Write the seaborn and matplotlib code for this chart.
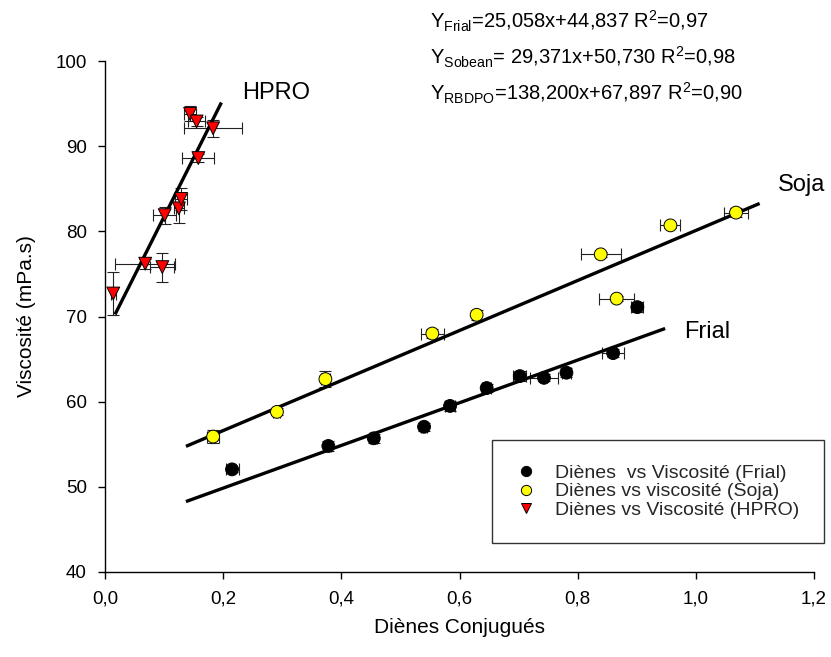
import numpy as np
import pandas as pd
import seaborn as sns
import matplotlib
matplotlib.use("Agg")
import matplotlib.pyplot as plt
from matplotlib.ticker import FixedLocator, FuncFormatter

# Données
frial_x = [0.215, 0.378, 0.455, 0.540, 0.584, 0.646, 0.702, 0.743, 0.781, 0.860, 0.901]
frial_y = [52.05, 54.8, 55.7, 57.05, 59.5, 61.6, 63.0, 62.8, 63.4, 65.7, 71.1]
frial_xerr = [0.011, 0.005, 0.006, 0.005, 0.009, 0.008, 0.011, 0.023, 0.008, 0.018, 0.010]
frial_yerr = [0.3, 0.6, 0.5, 0.5, 0.6, 0.5, 0.6, 0.4, 0.5, 0.5, 0.6]

soja_x = [0.183, 0.291, 0.373, 0.554, 0.629, 0.839, 0.866, 0.957, 1.068]
soja_y = [55.9, 58.8, 62.65, 68.0, 70.2, 77.3, 72.1, 80.7, 82.2]
soja_xerr = [0.010, 0.006, 0.008, 0.019, 0.006, 0.034, 0.030, 0.017, 0.021]
soja_yerr = [0.8, 0.4, 0.9, 0.5, 0.6, 0.3, 0.3, 0.3, 0.5]

hpro_x = [0.014, 0.068, 0.097, 0.101, 0.125, 0.129, 0.158, 0.144, 0.155, 0.183]
hpro_y = [72.7, 76.2, 75.8, 81.9, 82.7, 83.8, 88.6, 93.8, 92.9, 92.1]
hpro_xerr = [0.004, 0.051, 0.020, 0.019, 0.008, 0.010, 0.027, 0.010, 0.015, 0.049]
hpro_yerr = [2.5, 0.6, 1.7, 1.0, 1.7, 1.3, 0.5, 0.9, 0.5, 1.0]

# Droites de régression (pente, ordonnée, étendue en x)
fit_slope = {"Frial": 25.058, "Soja": 29.371, "HPRO": 138.200}
fit_intercept = {"Frial": 44.837, "Soja": 50.730, "HPRO": 67.897}
fit_range = {"Frial": (0.137, 0.948), "Soja": (0.137, 1.108), "HPRO": (0.017, 0.197)}

legend_labels = {
    "Frial": "Diènes  vs Viscosité (Frial)",
    "Soja": "Diènes vs viscosité (Soja)",
    "HPRO": "Diènes vs Viscosité (HPRO)",
}

equations = [
    r"Y$_{\mathregular{Frial}}$=25,058x+44,837 R$^{\mathregular{2}}$=0,97",
    r"Y$_{\mathregular{Sobean}}$= 29,371x+50,730 R$^{\mathregular{2}}$=0,98",
    r"Y$_{\mathregular{RBDPO}}$=138,200x+67,897 R$^{\mathregular{2}}$=0,90",
]

sns.set_theme(style="white")
plt.rcParams["font.family"] = ["Liberation Sans", "DejaVu Sans"]
plt.rcParams["mathtext.fontset"] = "custom"
plt.rcParams["mathtext.rm"] = "Liberation Sans"

df = pd.concat([
    pd.DataFrame({"x": frial_x, "y": frial_y, "serie": legend_labels["Frial"]}),
    pd.DataFrame({"x": soja_x, "y": soja_y, "serie": legend_labels["Soja"]}),
    pd.DataFrame({"x": hpro_x, "y": hpro_y, "serie": legend_labels["HPRO"]}),
])

fig = plt.figure(figsize=(8.31, 6.57), dpi=100)
ax = fig.add_axes([105 / 831, 1 - 572 / 657, 709 / 831, 511 / 657])

# barres d'erreur
for xs, ys, xe, ye in [(frial_x, frial_y, frial_xerr, frial_yerr),
                       (soja_x, soja_y, soja_xerr, soja_yerr),
                       (hpro_x, hpro_y, hpro_xerr, hpro_yerr)]:
    ax.errorbar(xs, ys, xerr=xe, yerr=ye, fmt="none", ecolor="#222222",
                elinewidth=0.8, capsize=4.5, capthick=0.8, zorder=2)

# droites
for name in ["Frial", "Soja", "HPRO"]:
    xx = np.array(fit_range[name])
    ax.plot(xx, fit_slope[name] * xx + fit_intercept[name], color="black", lw=2.4, zorder=3,
            solid_capstyle="butt")

palette = {legend_labels["Frial"]: "black", legend_labels["Soja"]: "#ffff00",
           legend_labels["HPRO"]: "#ff0000"}
markers = {legend_labels["Frial"]: "o", legend_labels["Soja"]: "o",
           legend_labels["HPRO"]: "v"}
sns.scatterplot(data=df, x="x", y="y", hue="serie", style="serie", palette=palette,
                markers=markers, s=85, edgecolor="black", linewidth=0.7, ax=ax, zorder=4)

ax.set_xlim(0, 1.2)
ax.set_ylim(40, 100)
ax.xaxis.set_major_locator(FixedLocator(np.arange(0, 1.21, 0.2)))
ax.xaxis.set_major_formatter(FuncFormatter(lambda v, p: f"{v:.1f}".replace(".", ",")))
ax.yaxis.set_major_locator(FixedLocator(np.arange(40, 101, 10)))
for s in ["top", "right"]:
    ax.spines[s].set_visible(False)
for s in ["left", "bottom"]:
    ax.spines[s].set_color("black")
    ax.spines[s].set_linewidth(1.0)
ax.tick_params(axis="both", direction="out", length=5, width=1, color="black",
               labelsize=13.5, labelcolor="black", pad=8, left=True, bottom=True)
ax.set_xlabel("Diènes Conjugués", fontsize=15, color="black", labelpad=8)
ax.set_ylabel("Viscosité (mPa.s)", fontsize=15, color="black", labelpad=14)

# étiquettes des droites
ax.text(0.232, 96.2, "HPRO", fontsize=17, color="black", va="center", ha="left")
ax.text(1.139, 85.4, "Soja", fontsize=17, color="black", va="center", ha="left")
ax.text(0.980, 68.2, "Frial", fontsize=17, color="black", va="center", ha="left")

# équations
for i, eq in enumerate(equations):
    fig.text(430 / 831, 1 - (21 + 36 * i) / 657, eq, fontsize=14.5, color="black",
             va="center", ha="left")

handles, labels = ax.get_legend_handles_labels()
ax.legend(handles, labels, loc="upper left", bbox_to_anchor=(492 / 831, 1 - 440 / 657),
          bbox_transform=fig.transFigure, fontsize=14, frameon=True, fancybox=False,
          edgecolor="black", borderpad=1.25, handlelength=1.0, handletextpad=1.0,
          labelspacing=0.05, borderaxespad=0, markerscale=0.8)
ax.get_legend().get_frame().set_linewidth(1.0)

fig.savefig("out.png", dpi=100)
